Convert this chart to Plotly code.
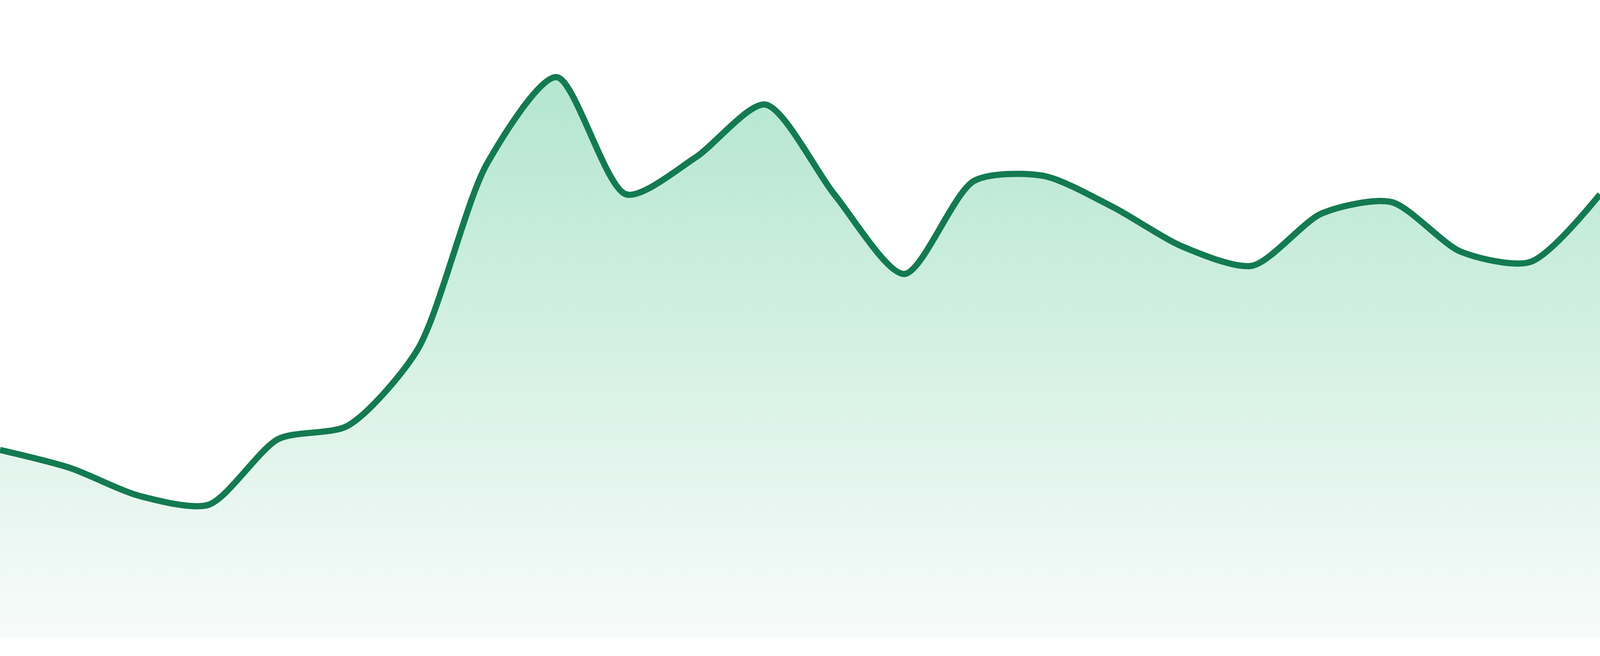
import plotly.graph_objects as go

# 24 equally spaced samples, no axis labels shown in the chart
points = list(range(24))
values = [29.4, 26.6, 22.2, 20.8, 31.1, 33.2, 45.1, 74.3, 87.9, 69.5, 75.3, 83.6,
          69.4, 57.0, 71.6, 72.4, 67.5, 61.3, 58.3, 66.5, 68.3, 60.5, 58.9, 69.5]

line_color = "#137a51"

fig = go.Figure(go.Scatter(
    x=points,
    y=values,
    mode="lines",
    line=dict(color=line_color, width=16, shape="spline", smoothing=0.75),
    fill="tozeroy",
    fillgradient=dict(
        type="vertical",
        start=0,
        stop=100,
        colorscale=[[0, "rgb(247,251,250)"], [1, "rgb(170,227,202)"]],
    ),
    hoverinfo="skip",
))

fig.update_layout(
    margin=dict(l=0, r=0, t=0, b=48),
    paper_bgcolor="white",
    plot_bgcolor="white",
    showlegend=False,
    xaxis=dict(range=[0, 23], visible=False, fixedrange=True),
    yaxis=dict(range=[0, 100], visible=False, fixedrange=True),
)

# fit the figure to the browser window, sizes scaled to a 1680px tall view
fit_js = """
var gd = document.getElementById('{plot_id}');
document.documentElement.style.margin = '0';
document.body.style.margin = '0';
document.body.style.overflow = 'hidden';
var W = window.innerWidth, H = window.innerHeight;
var k = H / 1680;
gd.style.width = W + 'px';
gd.style.height = H + 'px';
Plotly.relayout(gd, {width: W, height: H, 'margin.b': 48 * k});
Plotly.restyle(gd, {'line.width': 16 * k});
"""

fig.write_html("out.html", config={"displayModeBar": False}, post_script=fit_js)
